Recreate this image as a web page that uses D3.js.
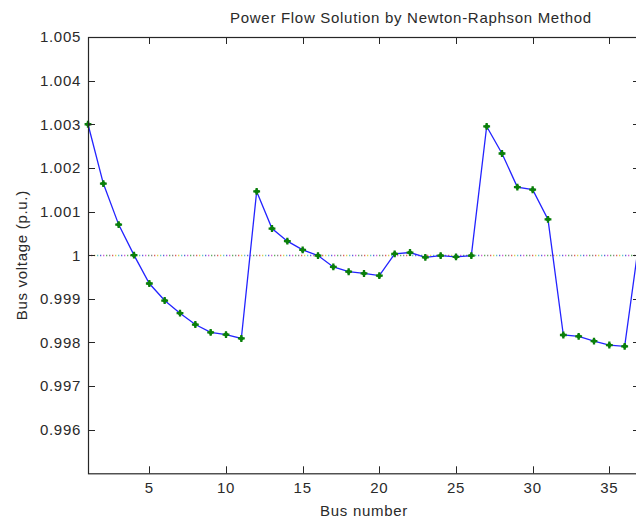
<!DOCTYPE html>
<html>
<head>
<meta charset="utf-8">
<script src="https://cdn.jsdelivr.net/npm/d3@7"></script>
<style>
  body { margin: 0; background: #fff; }
  svg { display: block; overflow: hidden; }
  text { font-family: "Liberation Sans", Arial, sans-serif; fill: #2a2a2a; }
</style>
</head>
<body>
<div id="chart"></div>
<script>
/* Power flow bus voltages - Newton-Raphson */

// Data
const busNumbers = d3.range(1, 38);
const busVoltages = [
  1.00300, 1.00164, 1.00070, 1.00000, 0.99935, 0.99896, 0.99867, 0.99841, 0.99823, 0.99818,
  0.99809, 1.00146, 1.00061, 1.00032, 1.00012, 0.99999, 0.99973, 0.99962, 0.99958, 0.99953,
  1.00003, 1.00006, 0.99995, 0.99999, 0.99996, 0.99999, 1.00295, 1.00233, 1.00156, 1.00150,
  1.00082, 0.99817, 0.99814, 0.99803, 0.99794, 0.99791, 1.00047
];
const xTicks = [5, 10, 15, 20, 25, 30, 35];
const yTicks = [0.996, 0.997, 0.998, 0.999, 1, 1.001, 1.002, 1.003, 1.004, 1.005];
const xDomain = [1, 37];
const yDomain = [0.995, 1.005];
const referenceVoltage = 1;

const width = 636;
const height = 519;
const margin = { top: 37, left: 88 };
const plotRight = 640;   // right edge of axes falls just outside the window
const plotBottom = 473.3;
const tickLen = 7;

const svg = d3.select('#chart')
  .append('svg')
  .attr('width', width)
  .attr('height', height);

const x = d3.scaleLinear().domain(xDomain).range([margin.left, plotRight]);
const y = d3.scaleLinear().domain(yDomain).range([plotBottom, margin.top]);

const fontSize = '15px';
const spacing = '0.7px';

// ============================================
// Reference line at 1 p.u. (multicoloured dots, like the original render)
// ============================================
const dotColors = ['#888888', '#e06060', '#d8d050', '#60c8c8', '#6060e0', '#d060d0', '#60b060'];
dotColors.forEach((c, i) => {
  svg.append('line')
    .attr('x1', x(xDomain[0]))
    .attr('x2', x(xDomain[1]))
    .attr('y1', Math.round(y(referenceVoltage)) + 0.5)
    .attr('y2', Math.round(y(referenceVoltage)) + 0.5)
    .attr('stroke', c)
    .attr('stroke-width', 1.3)
    .attr('stroke-dasharray', `1.3,${dotColors.length * 3 - 1.3}`)
    .attr('stroke-dashoffset', -i * 3);
});

// ============================================
// Voltage profile
// ============================================
const points = busNumbers.map((b, i) => ({ bus: b, v: busVoltages[i] }));

const line = d3.line()
  .x(d => x(d.bus))
  .y(d => y(d.v));

svg.append('path')
  .datum(points)
  .attr('fill', 'none')
  .attr('stroke', '#2323ff')
  .attr('stroke-width', 1.3)
  .attr('d', line);

const marker = svg.selectAll('.marker')
  .data(points)
  .enter()
  .append('g')
  .attr('class', 'marker')
  .attr('transform', d => `translate(${x(d.bus)},${y(d.v)})`);

// "*" marker: a square turned 45deg plus a cross, reads as a small green star
marker.append('path')
  .attr('d', d3.symbol().type(d3.symbolSquare).size(18))
  .attr('transform', 'rotate(45)')
  .attr('fill', '#0a7f0a');

marker.append('path')
  .attr('d', d3.symbol().type(d3.symbolCross).size(26))
  .attr('fill', '#0a7f0a');

// ============================================
// Axes box and ticks
// ============================================
const axisColor = '#262626';

svg.append('rect')
  .attr('x', margin.left + 0.5)
  .attr('y', margin.top + 0.5)
  .attr('width', plotRight - margin.left)
  .attr('height', plotBottom - margin.top)
  .attr('fill', 'none')
  .attr('stroke', axisColor)
  .attr('stroke-width', 1.2);

// x ticks, bottom and top (inward)
xTicks.forEach(t => {
  const px = Math.round(x(t)) + 0.5;
  svg.append('line')
    .attr('x1', px).attr('x2', px)
    .attr('y1', plotBottom).attr('y2', plotBottom - tickLen)
    .attr('stroke', axisColor);
  svg.append('line')
    .attr('x1', px).attr('x2', px)
    .attr('y1', margin.top).attr('y2', margin.top + tickLen)
    .attr('stroke', axisColor);
  svg.append('text')
    .attr('x', x(t))
    .attr('y', plotBottom + 20)
    .attr('text-anchor', 'middle')
    .attr('font-size', fontSize)
    .style('letter-spacing', spacing)
    .text(t);
});

// y ticks, left and right (inward)
yTicks.forEach(t => {
  const py = Math.round(y(t)) + 0.5;
  svg.append('line')
    .attr('x1', margin.left).attr('x2', margin.left + tickLen)
    .attr('y1', py).attr('y2', py)
    .attr('stroke', axisColor);
  svg.append('line')
    .attr('x1', plotRight).attr('x2', plotRight - tickLen)
    .attr('y1', py).attr('y2', py)
    .attr('stroke', axisColor);
  svg.append('text')
    .attr('x', margin.left - 7)
    .attr('y', y(t))
    .attr('dy', '0.36em')
    .attr('text-anchor', 'end')
    .attr('font-size', fontSize)
    .style('letter-spacing', spacing)
    .text(d3.format('~g')(+t.toFixed(3)));
});

// ============================================
// Labels
// ============================================
svg.append('text')
  .attr('x', 411)
  .attr('y', 23)
  .attr('text-anchor', 'middle')
  .attr('font-size', fontSize)
  .style('letter-spacing', spacing)
  .text('Power Flow Solution by Newton-Raphson Method');

svg.append('text')
  .attr('x', (margin.left + plotRight) / 2)
  .attr('y', 516)
  .attr('text-anchor', 'middle')
  .attr('font-size', fontSize)
  .style('letter-spacing', spacing)
  .text('Bus number');

svg.append('text')
  .attr('transform', `translate(27,${(margin.top + plotBottom) / 2}) rotate(-90)`)
  .attr('text-anchor', 'middle')
  .attr('font-size', fontSize)
  .style('letter-spacing', spacing)
  .text('Bus voltage (p.u.)');
</script>
</body>
</html>
